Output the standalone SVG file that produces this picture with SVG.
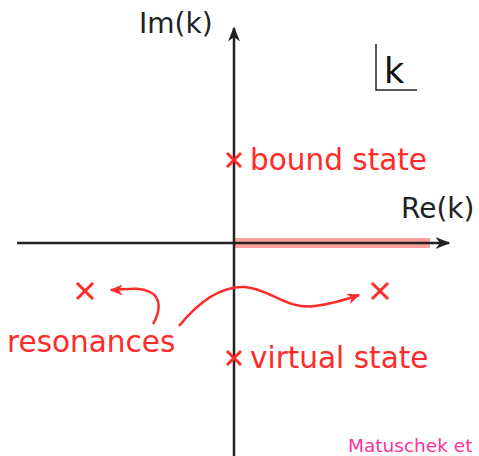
<svg xmlns="http://www.w3.org/2000/svg" width="479" height="456" viewBox="0 0 479 456">
<style>
.ax{stroke:#222;stroke-width:2.5;fill:none}
.lbl{font-family:"DejaVu Sans",sans-serif;font-size:28px;fill:#222}
.red{font-family:"DejaVu Sans",sans-serif;font-size:29.5px;fill:#ff2a2a}
.x{stroke:#ff2a2a;stroke-width:3;fill:none}
.cur{stroke:#ff2a2a;stroke-width:2.5;fill:none}
</style>
<defs>
<marker id="ah" viewBox="0 0 10 10" refX="9" refY="5" markerWidth="15" markerHeight="12" markerUnits="userSpaceOnUse" orient="auto" preserveAspectRatio="none">
<path d="M0,0 L10,5 L0,10 L3,5 Z" fill="#222"/>
</marker>
<marker id="rh" viewBox="0 0 10 10" refX="9" refY="5" markerWidth="13" markerHeight="11" markerUnits="userSpaceOnUse" orient="auto" preserveAspectRatio="none">
<path d="M0,0 L10,5 L0,10 L3,5 Z" fill="#ff2a2a"/>
</marker>
</defs>
<rect width="479" height="456" fill="#fff"/>
<g id="band"><rect x="234" y="238" width="196" height="10" fill="#ff2a2a" opacity="0.45"/></g>
<g id="connectors">
<line class="ax" x1="17" y1="243" x2="449" y2="243" marker-end="url(#ah)"/>
<line class="ax" x1="234" y1="456" x2="234" y2="28" marker-end="url(#ah)"/>
<path class="cur" d="M153,324 C160,312 162,298 150,292 C138,286 125,290 111,290" marker-end="url(#rh)"/>
<path class="cur" d="M179,326 C200,300 222,286 245,287 C270,289 287,310 315,306 C330,304 345,300 359,295" marker-end="url(#rh)"/>
</g>
<g id="im-label"><text class="lbl" x="139" y="33">Im(k)</text></g>
<g id="re-label"><text class="lbl" x="401" y="218">Re(k)</text></g>
<g id="k-box">
<path d="M376,44 V90 H417" stroke="#222" stroke-width="1.5" fill="none"/>
<text x="384" y="83" font-family="DejaVu Sans,sans-serif" font-size="35" fill="#111">k</text>
</g>
<g id="bound-state">
<path class="x" d="M227,153 L241,167 M241,153 L227,167"/>
<text class="red" x="250" y="170">bound state</text>
</g>
<g id="virtual-state">
<path class="x" d="M227,351 L241,365 M241,351 L227,365"/>
<text class="red" x="250" y="368">virtual state</text>
</g>
<g id="resonance-left"><path class="x" d="M77,283 L93,299 M93,283 L77,299"/></g>
<g id="resonance-right"><path class="x" d="M372,283 L388,299 M388,283 L372,299"/></g>
<g id="resonances-label"><text class="red" x="7" y="352">resonances</text></g>
<g id="citation"><text x="348" y="452" font-family="DejaVu Sans,sans-serif" font-size="18.5" fill="#ff3399">Matuschek et</text></g>
</svg>
